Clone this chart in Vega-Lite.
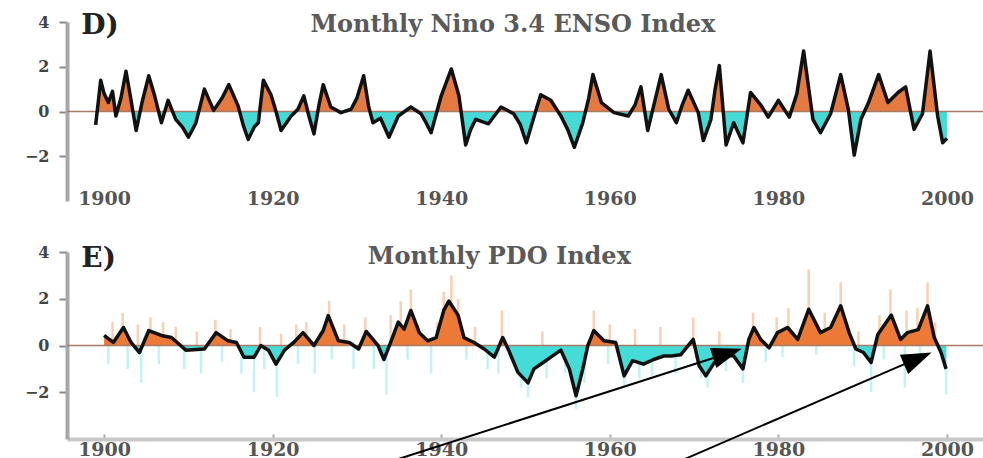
{
  "$schema": "https://vega.github.io/schema/vega-lite/v6.json",
  "autosize": {"type": "pad"},
  "padding": {"left": 24, "top": 12, "right": 0, "bottom": 0},
  "background": "white",
  "config": {"view": {"stroke": null}, "axis": {"grid": false}},
  "datasets": {
    "enso": [
      {"year": 1899.0, "v": -0.6}, {"year": 1899.6, "v": 1.4}, {"year": 1900.0, "v": 0.8}, {"year": 1900.5, "v": 0.4},
      {"year": 1901.0, "v": 0.9}, {"year": 1901.4, "v": -0.2}, {"year": 1902.0, "v": 0.6}, {"year": 1902.6, "v": 1.8},
      {"year": 1903.2, "v": 0.5}, {"year": 1903.8, "v": -0.85}, {"year": 1904.5, "v": 0.4}, {"year": 1905.3, "v": 1.6},
      {"year": 1906.0, "v": 0.7}, {"year": 1906.8, "v": -0.5}, {"year": 1907.6, "v": 0.5}, {"year": 1908.5, "v": -0.35},
      {"year": 1909.3, "v": -0.7}, {"year": 1910.0, "v": -1.15}, {"year": 1910.5, "v": -0.8}, {"year": 1910.9, "v": -0.5},
      {"year": 1911.9, "v": 1.0}, {"year": 1913.0, "v": 0.05}, {"year": 1914.0, "v": 0.6}, {"year": 1914.8, "v": 1.2},
      {"year": 1915.9, "v": 0.25}, {"year": 1916.5, "v": -0.6}, {"year": 1917.1, "v": -1.25}, {"year": 1917.8, "v": -0.7},
      {"year": 1918.3, "v": -0.5}, {"year": 1918.9, "v": 1.4}, {"year": 1919.8, "v": 0.75}, {"year": 1920.4, "v": 0.0},
      {"year": 1921.0, "v": -0.85}, {"year": 1922.2, "v": -0.2}, {"year": 1923.0, "v": 0.1}, {"year": 1923.7, "v": 0.7},
      {"year": 1924.3, "v": -0.2}, {"year": 1924.9, "v": -1.0}, {"year": 1925.5, "v": 0.3}, {"year": 1926.0, "v": 1.2},
      {"year": 1926.9, "v": 0.2}, {"year": 1928.1, "v": -0.05}, {"year": 1929.3, "v": 0.1}, {"year": 1930.0, "v": 0.6},
      {"year": 1930.8, "v": 1.6}, {"year": 1931.4, "v": 0.2}, {"year": 1931.9, "v": -0.5}, {"year": 1932.8, "v": -0.3},
      {"year": 1933.8, "v": -1.15}, {"year": 1934.9, "v": -0.2}, {"year": 1936.4, "v": 0.2}, {"year": 1937.6, "v": -0.1},
      {"year": 1938.2, "v": -0.5}, {"year": 1938.8, "v": -0.95}, {"year": 1940.0, "v": 0.7}, {"year": 1940.6, "v": 1.3},
      {"year": 1941.2, "v": 1.9}, {"year": 1942.1, "v": 0.7}, {"year": 1942.9, "v": -1.5}, {"year": 1943.5, "v": -0.8},
      {"year": 1944.1, "v": -0.35}, {"year": 1945.6, "v": -0.55}, {"year": 1947.1, "v": 0.2}, {"year": 1948.6, "v": -0.1},
      {"year": 1949.4, "v": -0.6}, {"year": 1950.1, "v": -1.4}, {"year": 1951.0, "v": -0.25}, {"year": 1951.8, "v": 0.75},
      {"year": 1953.0, "v": 0.5}, {"year": 1954.2, "v": -0.2}, {"year": 1955.0, "v": -0.8}, {"year": 1955.8, "v": -1.6},
      {"year": 1956.8, "v": -0.5}, {"year": 1957.5, "v": 0.6}, {"year": 1958.0, "v": 1.65}, {"year": 1959.0, "v": 0.4},
      {"year": 1960.5, "v": -0.05}, {"year": 1962.2, "v": -0.2}, {"year": 1963.0, "v": 0.3}, {"year": 1963.7, "v": 1.1},
      {"year": 1964.5, "v": -0.85}, {"year": 1965.3, "v": 0.4}, {"year": 1966.1, "v": 1.65}, {"year": 1967.0, "v": 0.1},
      {"year": 1967.9, "v": -0.5}, {"year": 1968.6, "v": 0.3}, {"year": 1969.3, "v": 0.95}, {"year": 1970.5, "v": -0.05},
      {"year": 1971.1, "v": -1.3}, {"year": 1972.0, "v": -0.35}, {"year": 1972.5, "v": 1.0}, {"year": 1973.0, "v": 2.05},
      {"year": 1973.8, "v": -1.5}, {"year": 1974.7, "v": -0.5}, {"year": 1975.8, "v": -1.4}, {"year": 1976.7, "v": 0.85},
      {"year": 1977.9, "v": 0.3}, {"year": 1978.8, "v": -0.25}, {"year": 1980.0, "v": 0.5}, {"year": 1981.3, "v": -0.25},
      {"year": 1982.2, "v": 0.8}, {"year": 1983.0, "v": 2.7}, {"year": 1984.1, "v": -0.35}, {"year": 1985.0, "v": -0.95},
      {"year": 1986.2, "v": -0.1}, {"year": 1987.4, "v": 1.65}, {"year": 1988.3, "v": 0.1}, {"year": 1989.0, "v": -1.95},
      {"year": 1989.8, "v": -0.35}, {"year": 1990.7, "v": 0.4}, {"year": 1991.9, "v": 1.65}, {"year": 1993.0, "v": 0.4},
      {"year": 1994.2, "v": 0.85}, {"year": 1995.1, "v": 1.1}, {"year": 1996.1, "v": -0.8}, {"year": 1997.1, "v": -0.1},
      {"year": 1998.0, "v": 2.7}, {"year": 1998.9, "v": -0.2}, {"year": 1999.5, "v": -1.4}, {"year": 2000.0, "v": -1.2}
    ],
    "pdo": [
      {"year": 1900.0, "v": 0.43}, {"year": 1901.1, "v": 0.13}, {"year": 1902.3, "v": 0.77}, {"year": 1903.2, "v": 0.13},
      {"year": 1904.2, "v": -0.3}, {"year": 1905.3, "v": 0.64}, {"year": 1906.8, "v": 0.43}, {"year": 1908.0, "v": 0.34},
      {"year": 1909.7, "v": -0.2}, {"year": 1911.9, "v": -0.15}, {"year": 1913.3, "v": 0.55}, {"year": 1914.7, "v": 0.2},
      {"year": 1915.7, "v": 0.13}, {"year": 1916.6, "v": -0.5}, {"year": 1917.8, "v": -0.5}, {"year": 1918.6, "v": 0.0},
      {"year": 1919.5, "v": -0.2}, {"year": 1920.4, "v": -0.8}, {"year": 1921.4, "v": -0.2}, {"year": 1922.5, "v": 0.13},
      {"year": 1923.6, "v": 0.55}, {"year": 1924.9, "v": 0.0}, {"year": 1926.0, "v": 0.64}, {"year": 1926.6, "v": 1.28},
      {"year": 1927.8, "v": 0.2}, {"year": 1929.1, "v": 0.13}, {"year": 1930.2, "v": -0.15}, {"year": 1931.1, "v": 0.6},
      {"year": 1932.5, "v": 0.0}, {"year": 1933.2, "v": -0.6}, {"year": 1934.0, "v": 0.13}, {"year": 1934.9, "v": 1.0},
      {"year": 1935.6, "v": 0.7}, {"year": 1936.4, "v": 1.5}, {"year": 1937.4, "v": 0.55}, {"year": 1938.4, "v": 0.2},
      {"year": 1939.4, "v": 0.34}, {"year": 1940.3, "v": 1.5}, {"year": 1940.9, "v": 1.9}, {"year": 1942.0, "v": 1.3},
      {"year": 1942.7, "v": 0.34}, {"year": 1943.9, "v": 0.13}, {"year": 1945.1, "v": -0.15}, {"year": 1946.3, "v": -0.5},
      {"year": 1947.3, "v": 0.34}, {"year": 1948.0, "v": -0.2}, {"year": 1949.1, "v": -1.15}, {"year": 1950.3, "v": -1.6},
      {"year": 1951.0, "v": -1.0}, {"year": 1952.1, "v": -0.73}, {"year": 1953.0, "v": -0.5}, {"year": 1954.2, "v": -0.2},
      {"year": 1955.2, "v": -1.0}, {"year": 1956.0, "v": -2.15}, {"year": 1956.8, "v": -1.0}, {"year": 1957.4, "v": 0.0},
      {"year": 1958.1, "v": 0.64}, {"year": 1959.3, "v": 0.2}, {"year": 1960.7, "v": 0.13}, {"year": 1961.7, "v": -1.3},
      {"year": 1962.7, "v": -0.65}, {"year": 1964.0, "v": -0.8}, {"year": 1965.2, "v": -0.6}, {"year": 1966.4, "v": -0.45},
      {"year": 1967.3, "v": -0.45}, {"year": 1968.4, "v": -0.4}, {"year": 1969.9, "v": 0.26}, {"year": 1970.6, "v": -0.87},
      {"year": 1971.4, "v": -1.3}, {"year": 1972.4, "v": -0.73}, {"year": 1973.5, "v": -0.4}, {"year": 1974.7, "v": -0.45},
      {"year": 1975.8, "v": -1.0}, {"year": 1976.5, "v": 0.26}, {"year": 1977.1, "v": 0.77}, {"year": 1977.9, "v": 0.26},
      {"year": 1978.9, "v": -0.1}, {"year": 1979.9, "v": 0.55}, {"year": 1981.1, "v": 0.77}, {"year": 1982.3, "v": 0.26},
      {"year": 1983.6, "v": 1.55}, {"year": 1985.0, "v": 0.55}, {"year": 1986.2, "v": 0.77}, {"year": 1987.4, "v": 1.7},
      {"year": 1988.4, "v": 0.55}, {"year": 1989.2, "v": -0.15}, {"year": 1990.1, "v": -0.3}, {"year": 1991.0, "v": -0.73},
      {"year": 1991.8, "v": 0.47}, {"year": 1993.4, "v": 1.3}, {"year": 1994.5, "v": 0.26}, {"year": 1995.3, "v": 0.55},
      {"year": 1996.6, "v": 0.68}, {"year": 1997.7, "v": 1.7}, {"year": 1998.5, "v": 0.34}, {"year": 1999.3, "v": -0.3},
      {"year": 1999.9, "v": -1.0}
    ],
    "pdoraw": [
      {"year": 1901.0, "v": 1.0}, {"year": 1902.2, "v": 1.4}, {"year": 1904.0, "v": 0.9}, {"year": 1905.5, "v": 1.2},
      {"year": 1907.0, "v": 1.0}, {"year": 1908.5, "v": 0.8}, {"year": 1911.0, "v": 0.6}, {"year": 1913.2, "v": 1.1},
      {"year": 1915.0, "v": 0.7}, {"year": 1918.5, "v": 0.8}, {"year": 1921.0, "v": 0.5}, {"year": 1922.8, "v": 0.9},
      {"year": 1924.0, "v": 1.0}, {"year": 1926.7, "v": 1.9}, {"year": 1928.5, "v": 0.9}, {"year": 1931.0, "v": 1.2},
      {"year": 1934.0, "v": 1.3}, {"year": 1935.2, "v": 1.9}, {"year": 1936.4, "v": 2.4}, {"year": 1939.5, "v": 1.0},
      {"year": 1940.3, "v": 2.3}, {"year": 1941.2, "v": 3.0}, {"year": 1942.0, "v": 2.0}, {"year": 1944.0, "v": 0.8},
      {"year": 1947.2, "v": 1.5}, {"year": 1952.0, "v": 0.6}, {"year": 1958.1, "v": 1.5}, {"year": 1960.0, "v": 0.9},
      {"year": 1963.0, "v": 0.7}, {"year": 1966.0, "v": 0.8}, {"year": 1969.9, "v": 1.2}, {"year": 1973.0, "v": 0.6},
      {"year": 1977.0, "v": 1.4}, {"year": 1979.8, "v": 1.2}, {"year": 1981.2, "v": 1.6}, {"year": 1983.6, "v": 3.25},
      {"year": 1985.5, "v": 1.4}, {"year": 1987.4, "v": 2.7}, {"year": 1989.5, "v": 0.6}, {"year": 1992.0, "v": 1.3},
      {"year": 1993.3, "v": 2.4}, {"year": 1995.2, "v": 1.5}, {"year": 1996.5, "v": 1.6}, {"year": 1997.7, "v": 2.7},
      {"year": 1998.6, "v": 1.0},
      {"year": 1900.5, "v": -0.8}, {"year": 1902.8, "v": -1.0}, {"year": 1904.4, "v": -1.6}, {"year": 1906.5, "v": -0.8},
      {"year": 1909.5, "v": -1.0}, {"year": 1911.5, "v": -1.2}, {"year": 1914.0, "v": -0.7}, {"year": 1916.3, "v": -1.2},
      {"year": 1917.8, "v": -2.0}, {"year": 1919.0, "v": -1.0}, {"year": 1920.5, "v": -2.2}, {"year": 1923.0, "v": -0.8},
      {"year": 1925.0, "v": -1.2}, {"year": 1927.0, "v": -0.6}, {"year": 1929.6, "v": -1.0}, {"year": 1932.0, "v": -1.0},
      {"year": 1933.5, "v": -2.1}, {"year": 1936.0, "v": -0.6}, {"year": 1938.8, "v": -1.2}, {"year": 1943.0, "v": -0.6},
      {"year": 1945.5, "v": -1.0}, {"year": 1946.8, "v": -1.2}, {"year": 1949.5, "v": -1.8}, {"year": 1950.3, "v": -2.2},
      {"year": 1952.5, "v": -1.4}, {"year": 1954.7, "v": -1.2}, {"year": 1956.0, "v": -2.7}, {"year": 1957.0, "v": -1.6},
      {"year": 1959.8, "v": -0.8}, {"year": 1961.7, "v": -1.8}, {"year": 1963.5, "v": -1.4}, {"year": 1965.0, "v": -1.3},
      {"year": 1967.8, "v": -1.2}, {"year": 1970.8, "v": -1.4}, {"year": 1971.6, "v": -1.8}, {"year": 1973.8, "v": -1.1},
      {"year": 1975.8, "v": -1.6}, {"year": 1978.5, "v": -0.7}, {"year": 1980.5, "v": -0.5}, {"year": 1984.5, "v": -0.4},
      {"year": 1989.0, "v": -0.9}, {"year": 1991.0, "v": -2.0}, {"year": 1992.5, "v": -0.6}, {"year": 1995.0, "v": -1.8},
      {"year": 1996.8, "v": -0.5}, {"year": 1999.9, "v": -2.1}
    ],
    "one": [{"k": 1}]
  },
  "vconcat": [
    {
      "width": 917,
      "height": 179,
      "layer": [
        {
          "data": {"name": "enso"},
          "mark": {"type": "area", "color": {"gradient": "linear", "x1": 0, "y1": 0, "x2": 0, "y2": 1,
            "stops": [{"offset": 0, "color": "#E47A40"}, {"offset": 0.5806, "color": "#E47A40"}, {"offset": 0.5806, "color": "#45DAD6"}, {"offset": 1, "color": "#45DAD6"}]}},
          "encoding": {
            "x": {"field": "year", "type": "quantitative",
              "scale": {"domain": [1895.6, 2004.4], "nice": false, "zero": false},
              "axis": {"values": [1900, 1920, 1940, 1960, 1980, 2000], "format": "d", "title": null, "domain": false, "ticks": false,
                "labelBaseline": "middle", "labelPadding": -3, "labelFont": "DejaVu Serif", "labelFontSize": 19, "labelFontWeight": "bold", "labelColor": "#555", "labelFlush": false}},
            "y": {"field": "v", "type": "quantitative",
              "scale": {"domain": [-4, 4], "nice": false, "zero": false},
              "axis": {"values": [-2, 0, 2, 4], "title": null, "domainColor": "#a8a8a8", "domainWidth": 4, "tickColor": "#888", "tickSize": 8, "tickWidth": 2,
                "labelFont": "DejaVu Serif", "labelFontSize": 16, "labelFontWeight": "bold", "labelColor": "#444", "labelPadding": 10}},
            "y2": {"datum": 0}
          }
        },
        {
          "data": {"name": "one"},
          "mark": {"type": "rule", "color": "#a87a66", "strokeWidth": 1.5},
          "encoding": {"y": {"datum": 0, "type": "quantitative"}}
        },
        {
          "data": {"name": "enso"},
          "mark": {"type": "line", "color": "#111111", "strokeWidth": 3.5, "strokeJoin": "round"},
          "encoding": {
            "x": {"field": "year", "type": "quantitative"},
            "y": {"field": "v", "type": "quantitative"}
          }
        },
        {
          "data": {"name": "one"},
          "mark": {"type": "text", "text": "D)", "align": "left", "baseline": "middle", "font": "DejaVu Serif", "fontSize": 28, "fontWeight": "bold", "color": "#222222"},
          "encoding": {"x": {"datum": 1897.3, "type": "quantitative"}, "y": {"datum": 3.8, "type": "quantitative"}}
        },
        {
          "data": {"name": "one"},
          "mark": {"type": "text", "text": "Monthly Nino 3.4 ENSO Index", "align": "center", "baseline": "middle", "font": "DejaVu Serif", "fontSize": 24, "fontWeight": "bold", "color": "#5a5a5a"},
          "encoding": {"x": {"datum": 1948.5, "type": "quantitative"}, "y": {"datum": 3.85, "type": "quantitative"}}
        }
      ]
    },
    {
      "width": 917,
      "height": 187,
      "layer": [
        {
          "data": {"name": "pdoraw"},
          "mark": {"type": "rule", "strokeWidth": 2.5, "opacity": 0.75},
          "encoding": {
            "x": {"field": "year", "type": "quantitative",
              "scale": {"domain": [1895.6, 2004.4], "nice": false, "zero": false},
              "axis": {"values": [1900, 1920, 1940, 1960, 1980, 2000], "format": "d", "title": null, "domainColor": "#c8c8c8", "domainWidth": 4,
                "tickColor": "#aaaaaa", "tickSize": -5, "tickWidth": 2, "labelBaseline": "middle", "labelPadding": 15,
                "labelFont": "DejaVu Serif", "labelFontSize": 19, "labelFontWeight": "bold", "labelColor": "#555", "labelFlush": false}},
            "y": {"field": "v", "type": "quantitative",
              "scale": {"domain": [-4, 4], "nice": false, "zero": false},
              "axis": {"values": [-2, 0, 2, 4], "title": null, "domainColor": "#a8a8a8", "domainWidth": 4, "tickColor": "#888", "tickSize": 8, "tickWidth": 2,
                "labelFont": "DejaVu Serif", "labelFontSize": 16, "labelFontWeight": "bold", "labelColor": "#444", "labelPadding": 10}},
            "y2": {"datum": 0},
            "color": {"condition": {"test": "datum.v > 0", "value": "#F6C09C"}, "value": "#AEEFEF"}
          }
        },
        {
          "data": {"name": "pdo"},
          "mark": {"type": "area", "color": {"gradient": "linear", "x1": 0, "y1": 0, "x2": 0, "y2": 1,
            "stops": [{"offset": 0, "color": "#EC7A36"}, {"offset": 0.469, "color": "#EC7A36"}, {"offset": 0.469, "color": "#45DCD8"}, {"offset": 1, "color": "#45DCD8"}]}},
          "encoding": {
            "x": {"field": "year", "type": "quantitative"},
            "y": {"field": "v", "type": "quantitative"},
            "y2": {"datum": 0}
          }
        },
        {
          "data": {"name": "one"},
          "mark": {"type": "rule", "color": "#a87a66", "strokeWidth": 1.5},
          "encoding": {"y": {"datum": 0, "type": "quantitative"}}
        },
        {
          "data": {"name": "pdo"},
          "mark": {"type": "line", "color": "#111111", "strokeWidth": 3.5, "strokeJoin": "round"},
          "encoding": {
            "x": {"field": "year", "type": "quantitative"},
            "y": {"field": "v", "type": "quantitative"}
          }
        },
        {
          "data": {"name": "one"},
          "mark": {"type": "text", "text": "E)", "align": "left", "baseline": "middle", "font": "DejaVu Serif", "fontSize": 28, "fontWeight": "bold", "color": "#222222"},
          "encoding": {"x": {"datum": 1897.3, "type": "quantitative"}, "y": {"datum": 3.7, "type": "quantitative"}}
        },
        {
          "data": {"name": "one"},
          "mark": {"type": "text", "text": "Monthly PDO Index", "align": "center", "baseline": "middle", "font": "DejaVu Serif", "fontSize": 24, "fontWeight": "bold", "color": "#5a5a5a"},
          "encoding": {"x": {"datum": 1946.9, "type": "quantitative"}, "y": {"datum": 3.8, "type": "quantitative"}}
        },
        {
          "data": {"name": "one"},
          "mark": {"type": "rule", "color": "#000000", "strokeWidth": 2},
          "encoding": {"x": {"datum": 1934.64, "type": "quantitative"}, "y": {"datum": -4.89, "type": "quantitative"}, "x2": {"datum": 1973.96}, "y2": {"datum": -0.34}}
        },
        {
          "data": {"name": "one"},
          "mark": {"type": "point", "shape": "M0,-1L0.7,1L-0.7,1Z", "filled": true, "color": "#000000", "opacity": 1, "size": 900, "angle": 72.2},
          "encoding": {"x": {"datum": 1973.96, "type": "quantitative"}, "y": {"datum": -0.34, "type": "quantitative"}}
        },
        {
          "data": {"name": "one"},
          "mark": {"type": "rule", "color": "#000000", "strokeWidth": 2},
          "encoding": {"x": {"datum": 1968.68, "type": "quantitative"}, "y": {"datum": -4.89, "type": "quantitative"}, "x2": {"datum": 1996.54}, "y2": {"datum": -0.55}}
        },
        {
          "data": {"name": "one"},
          "mark": {"type": "point", "shape": "M0,-1L0.7,1L-0.7,1Z", "filled": true, "color": "#000000", "opacity": 1, "size": 900, "angle": 66.6},
          "encoding": {"x": {"datum": 1996.54, "type": "quantitative"}, "y": {"datum": -0.55, "type": "quantitative"}}
        }
      ]
    }
  ],
  "spacing": 51,
  "bounds": "flush"
}
